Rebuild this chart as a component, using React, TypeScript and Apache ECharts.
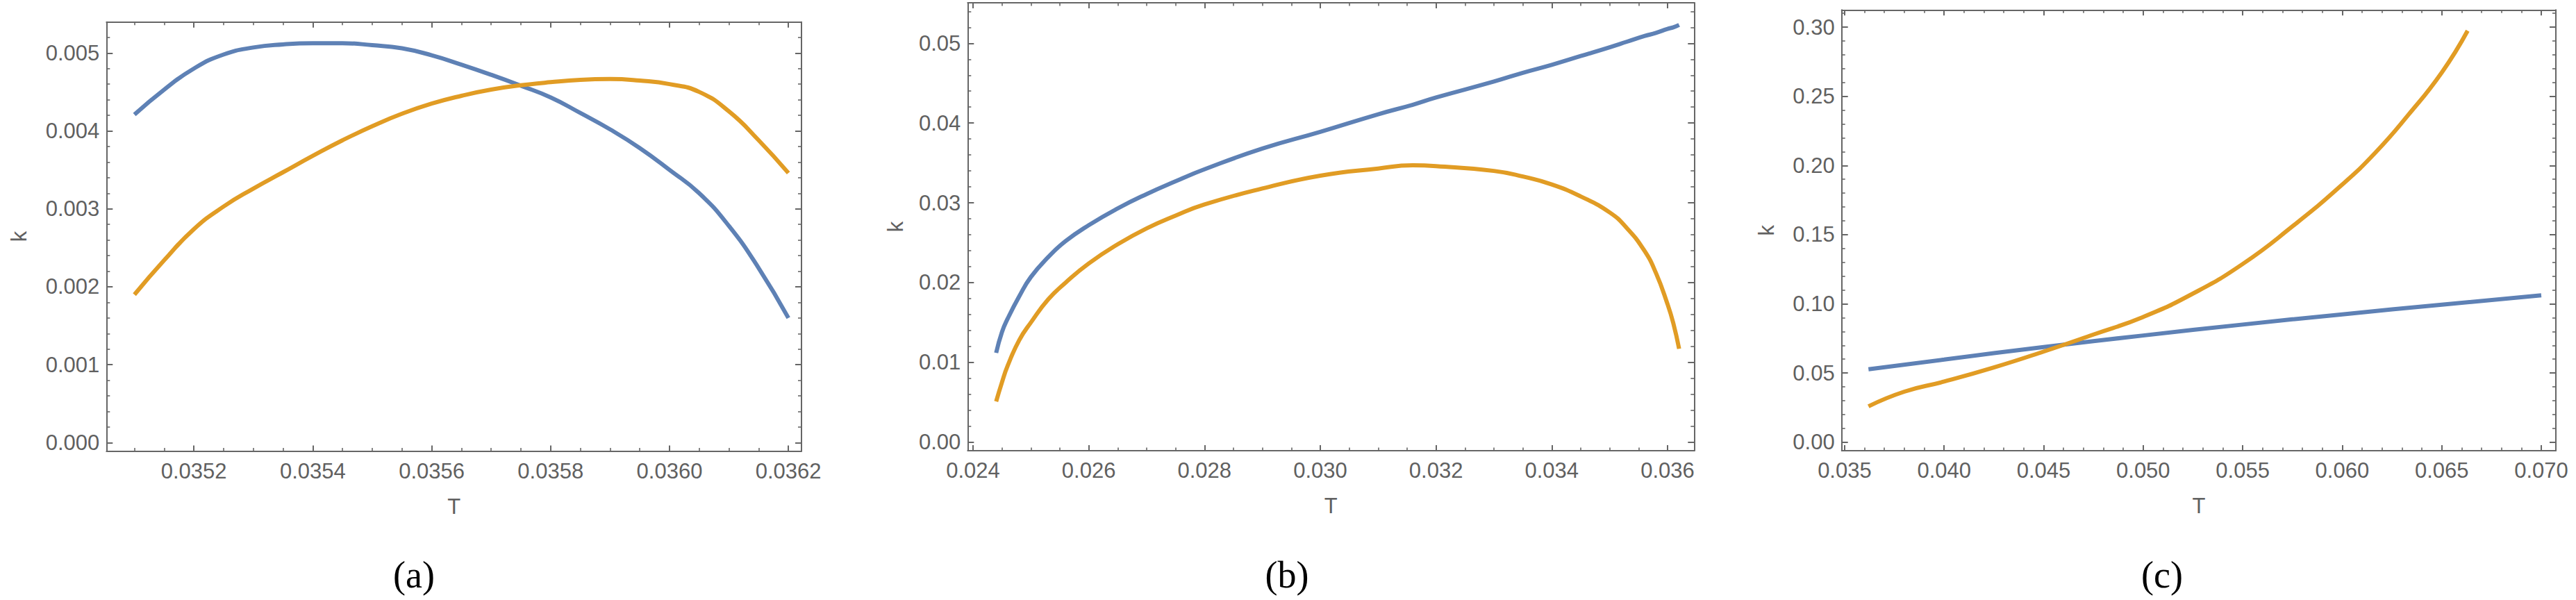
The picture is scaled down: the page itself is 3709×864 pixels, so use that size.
import React, { useEffect, useRef } from "react";
import * as echarts from "echarts";

// ---------- data ----------
// panel (a)
const aT = [0.0351, 0.03515, 0.0352, 0.03525, 0.0353, 0.03535, 0.0354, 0.03545, 0.0355, 0.03555, 0.0356, 0.03565, 0.0357, 0.03575, 0.0358, 0.03585, 0.0359, 0.03595, 0.036, 0.03605, 0.0361, 0.03615, 0.0362];
const aBlue = [0.00421, 0.00453, 0.0048, 0.00498, 0.00507, 0.00511, 0.005125, 0.005125, 0.0051, 0.00506, 0.00497, 0.00485, 0.00472, 0.00458, 0.00443, 0.00423, 0.00402, 0.00378, 0.0035, 0.0032, 0.00278, 0.00224, 0.0016];
const aOrange = [0.0019, 0.00234, 0.00274, 0.00303, 0.00326, 0.00347, 0.00368, 0.00388, 0.00406, 0.00422, 0.00435, 0.00445, 0.00453, 0.004585, 0.004625, 0.004655, 0.004665, 0.004645, 0.0046, 0.0045, 0.00425, 0.00388, 0.00346];

// panel (b)
const bT = [0.0244, 0.0245, 0.0246, 0.0248, 0.025, 0.0253, 0.0256, 0.026, 0.0265, 0.027, 0.0275, 0.028, 0.029, 0.03, 0.031, 0.0316, 0.032, 0.033, 0.0335, 0.034, 0.0345, 0.035, 0.0353, 0.0356, 0.0358, 0.036, 0.0361, 0.0362];
const bBlue = [0.0112, 0.0138, 0.0155, 0.0183, 0.0207, 0.0232, 0.0252, 0.0272, 0.0293, 0.0311, 0.0327, 0.0342, 0.0368, 0.0389, 0.0411, 0.0423, 0.0432, 0.0452, 0.0463, 0.0473, 0.0484, 0.0495, 0.0502, 0.0509, 0.0513, 0.0518, 0.052, 0.0523];
const bOrange = [0.0051, 0.0075, 0.0096, 0.0128, 0.015, 0.0179, 0.02, 0.0224, 0.0248, 0.0268, 0.0284, 0.0298, 0.0318, 0.0334, 0.0343, 0.0347, 0.0346, 0.034, 0.0333, 0.0323, 0.0308, 0.0288, 0.0268, 0.024, 0.0212, 0.0173, 0.0149, 0.0117];

// panel (c)
const cBlueT = [0.0362, 0.04, 0.045, 0.05, 0.055, 0.06, 0.065, 0.07];
const cBlue = [0.0527, 0.0597, 0.0688, 0.0771, 0.085, 0.0924, 0.0994, 0.1061];
const cOrangeT = [0.0362, 0.038, 0.04, 0.0425, 0.045, 0.0475, 0.05, 0.0525, 0.055, 0.0575, 0.06, 0.0617, 0.0633, 0.065, 0.0663];
const cOrange = [0.0259, 0.0365, 0.0438, 0.054, 0.0655, 0.0778, 0.0905, 0.1074, 0.1288, 0.156, 0.1862, 0.2098, 0.2362, 0.2672, 0.2974];

// axis ranges
const aXRange = [0.035053, 0.036222];
const aYRange = [-0.000107, 0.005397];
const bXRange = [0.023908, 0.03646];
const bYRange = [-0.00107, 0.055075];
const cXRange = [0.034853, 0.070733];
const cYRange = [-0.00617, 0.31245];

const panelLabels = ["(a)", "(b)", "(c)"];
const xName = "T";
const yName = "k";

// ---------- style ----------
const AXIS = "#666666";
const TEXT = "#606060";
const BLUE = "#5e81b5";
const ORANGE = "#e19c24";
const FONT = "'Liberation Sans', Arial, sans-serif";
const FS = 31;

function pairs(xs: number[], ys: number[]) {
  return xs.map((x, i) => [x, ys[i]]);
}

function axesFor(
  g: number,
  xr: number[],
  yr: number[],
  xSplit: number,
  ySplit: number,
  xMinor: number,
  yMinor: number,
  xDec: number,
  yDec: number,
  kGap: number
) {
  const line = { show: true, onZero: false, lineStyle: { color: AXIS, width: 2 } };
  const xTick = { show: true, inside: true, length: 8, lineStyle: { color: AXIS, width: 2 } };
  const yTick = { show: true, inside: true, length: 9, lineStyle: { color: AXIS, width: 2 } };
  const xMin = { show: true, splitNumber: xMinor, length: 4.5, lineStyle: { color: AXIS, width: 1.6 } };
  const yMin = { show: true, splitNumber: yMinor, length: 5, lineStyle: { color: AXIS, width: 1.6 } };
  const common = { type: "value", gridIndex: g, splitLine: { show: false }, minorSplitLine: { show: false } };
  const labelStyle = { color: TEXT, fontSize: FS, fontFamily: FONT, showMinLabel: false, showMaxLabel: false };
  const xAxis = [
    {
      ...common,
      position: "bottom",
      min: xr[0],
      max: xr[1],
      splitNumber: xSplit,
      axisLine: line,
      axisTick: xTick,
      minorTick: xMin,
      axisLabel: { ...labelStyle, margin: 13, formatter: (v: number) => v.toFixed(xDec) },
      name: xName,
      nameLocation: "middle",
      nameGap: 64,
      nameTextStyle: { color: TEXT, fontSize: FS, fontFamily: FONT },
    },
    {
      ...common,
      position: "top",
      min: xr[0],
      max: xr[1],
      splitNumber: xSplit,
      axisLine: line,
      axisTick: xTick,
      minorTick: xMin,
      axisLabel: { show: false },
    },
  ];
  const yAxis = [
    {
      ...common,
      position: "left",
      min: yr[0],
      max: yr[1],
      splitNumber: ySplit,
      axisLine: line,
      axisTick: yTick,
      minorTick: yMin,
      axisLabel: { ...labelStyle, margin: 10, formatter: (v: number) => v.toFixed(yDec) },
      name: yName,
      nameLocation: "middle",
      nameGap: kGap,
      nameTextStyle: { color: TEXT, fontSize: FS, fontFamily: FONT },
    },
    {
      ...common,
      position: "right",
      min: yr[0],
      max: yr[1],
      splitNumber: ySplit,
      axisLine: line,
      axisTick: yTick,
      minorTick: yMin,
      axisLabel: { show: false },
    },
  ];
  return { xAxis, yAxis };
}

function lineSeries(g: number, data: number[][], color: string) {
  return {
    type: "line",
    xAxisIndex: g * 2,
    yAxisIndex: g * 2,
    data,
    showSymbol: false,
    symbol: "none",
    smooth: 0.5,
    lineStyle: { color, width: 6, cap: "butt" },
    emphasis: { disabled: true },
  };
}

export default function App() {
  const ref = useRef<HTMLDivElement>(null);
  useEffect(() => {
    if (!ref.current) return;
    const chart = echarts.init(ref.current, undefined, { renderer: "svg" });
    const A = axesFor(0, aXRange, aYRange, 6, 5, 4, 5, 4, 3, 110);
    const B = axesFor(1, bXRange, bYRange, 6, 5, 4, 5, 3, 2, 88);
    const C = axesFor(2, cXRange, cYRange, 7, 6, 5, 5, 3, 2, 93);
    const labelPos = [
      [596, 828],
      [1853, 828],
      [3113, 828],
    ];
    chart.setOption({
      animation: false,
      backgroundColor: "#ffffff",
      grid: [
        { left: 153.3, top: 31.7, width: 1000.7, height: 617.8, outerBoundsMode: "none", containLabel: false },
        { left: 1393.3, top: 4, width: 1046, height: 645, outerBoundsMode: "none", containLabel: false },
        { left: 2651.7, top: 14.3, width: 1028.3, height: 634.7, outerBoundsMode: "none", containLabel: false },
      ],
      xAxis: [...A.xAxis, ...B.xAxis, ...C.xAxis],
      yAxis: [...A.yAxis, ...B.yAxis, ...C.yAxis],
      series: [
        lineSeries(0, pairs(aT, aBlue), BLUE),
        lineSeries(0, pairs(aT, aOrange), ORANGE),
        lineSeries(1, pairs(bT, bBlue), BLUE),
        lineSeries(1, pairs(bT, bOrange), ORANGE),
        lineSeries(2, pairs(cBlueT, cBlue), BLUE),
        lineSeries(2, pairs(cOrangeT, cOrange), ORANGE),
      ],
      graphic: panelLabels.map((t, i) => ({
        type: "text",
        x: labelPos[i][0],
        y: labelPos[i][1],
        style: {
          text: t,
          fill: "#000000",
          font: "54px 'Liberation Serif', 'DejaVu Serif', serif",
          align: "center",
          verticalAlign: "middle",
        },
      })),
    });
    return () => chart.dispose();
  }, []);
  return (
    <div
      ref={ref}
      style={{ position: "fixed", left: 0, top: 0, width: 3709, height: 864, background: "#fff" }}
    />
  );
}
